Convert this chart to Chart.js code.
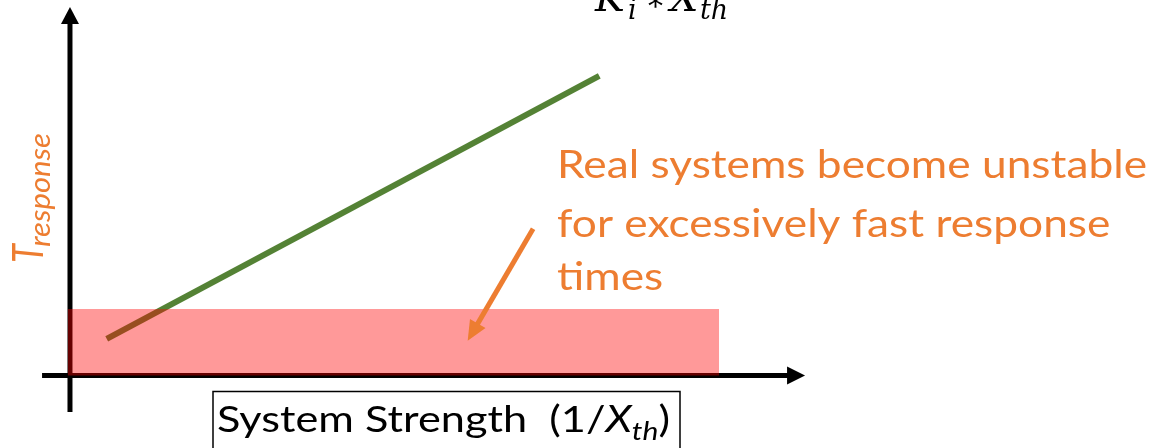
<!DOCTYPE html>
<html>
<head>
<meta charset="utf-8">
<script src="https://cdn.jsdelivr.net/npm/chart.js@4"></script>
<style>
  html,body{margin:0;padding:0;background:#fff;}
  #wrap{width:1155px;height:448px;}
</style>
</head>
<body>
<div id="wrap"><canvas id="myChart" width="1155" height="448"></canvas></div>
<script>
// data space: x = system strength, y = response time (origin where the axes cross)
const xRange = [-0.952, 14.76];
const yRange = [-1.97, 10.19];

// green trend line
const trendX = [0.50, 7.20];
const trendY = [0.99, 8.13];

// unstable (too fast) region
const bandX = [-0.03, 8.83];
const bandY = [0, 1.80];

// axes
const xAxisX = [-0.38, 10];
const yAxisY = [-0.99, 10];

// orange pointer arrow (from text to band)
const pointerX = [6.30, 5.41];
const pointerY = [3.98, 0.94];

const noteLines = ['Real systems become unstable', 'for excessively fast response', 'times'];

const ORANGE = '#ED7D31';
const GREEN = '#548235';

function arrow(ctx, x1, y1, x2, y2, color, lw, headLen, headHalf) {
    const ang = Math.atan2(y2 - y1, x2 - x1);
    const bx = x2 - headLen * Math.cos(ang), by = y2 - headLen * Math.sin(ang);
    ctx.save();
    ctx.strokeStyle = color;
    ctx.fillStyle = color;
    ctx.lineWidth = lw;
    ctx.lineCap = 'butt';
    ctx.beginPath();
    ctx.moveTo(x1, y1);
    ctx.lineTo(bx + Math.cos(ang), by + Math.sin(ang));
    ctx.stroke();
    ctx.beginPath();
    ctx.moveTo(x2, y2);
    ctx.lineTo(bx - headHalf * Math.sin(ang), by + headHalf * Math.cos(ang));
    ctx.lineTo(bx + headHalf * Math.sin(ang), by - headHalf * Math.cos(ang));
    ctx.closePath();
    ctx.fill();
    ctx.restore();
}

const axesPlugin = {
    id: 'axesArrows',
    beforeDatasetsDraw(chart) {
        const ctx = chart.ctx, sx = chart.scales.x, sy = chart.scales.y;
        const y0 = sy.getPixelForValue(0), x0 = sx.getPixelForValue(0);
        arrow(ctx, sx.getPixelForValue(xAxisX[0]), y0, sx.getPixelForValue(xAxisX[1]), y0, '#000', 5, 18, 9);
        arrow(ctx, x0, sy.getPixelForValue(yAxisY[0]), x0, sy.getPixelForValue(yAxisY[1]), '#000', 5, 17, 9);
    },
    afterDatasetsDraw(chart) {
        const ctx = chart.ctx, sx = chart.scales.x, sy = chart.scales.y;
        arrow(ctx, sx.getPixelForValue(pointerX[0]), sy.getPixelForValue(pointerY[0]),
              sx.getPixelForValue(pointerX[1]), sy.getPixelForValue(pointerY[1]), ORANGE, 5, 20, 9);

        // note text
        ctx.save();
        ctx.fillStyle = ORANGE;
        ctx.textBaseline = 'alphabetic';
        ctx.font = '39px Lato';
        const k = 590 / ctx.measureText(noteLines[0]).width;
        const bases = [178, 237, 290];
        noteLines.forEach((t, i) => {
            ctx.save();
            ctx.translate(557, bases[i]);
            ctx.scale(k, 1);
            ctx.fillText(t, 0, 0);
            ctx.restore();
        });
        ctx.restore();

        // y label T_response (rotated)
        ctx.save();
        ctx.fillStyle = ORANGE;
        ctx.translate(43, 263);
        ctx.rotate(-Math.PI / 2);
        ctx.save();
        ctx.scale(0.82, 1);
        ctx.font = 'italic 42px Lato';
        ctx.fillText('T', 0, 0);
        ctx.restore();
        ctx.font = 'italic 29px Lato';
        const rw = ctx.measureText('response').width;
        ctx.translate(16, 7);
        ctx.scale(114 / rw, 1);
        ctx.fillText('response', 0, 0);
        ctx.restore();

        // top formula (cut off at the top)
        ctx.save();
        ctx.fillStyle = '#000';
        ctx.font = 'italic 40px "DejaVu Serif"';
        ctx.fillText('K', 595, 11);
        ctx.font = 'italic 27px "DejaVu Serif"';
        ctx.fillText('i', 628, 19);
        ctx.font = '30px "DejaVu Serif"';
        ctx.fillText('*', 648, 16);
        ctx.font = 'italic 40px "DejaVu Serif"';
        ctx.fillText('X', 670, 11);
        ctx.font = 'italic 27px "DejaVu Serif"';
        ctx.fillText('th', 700, 19);
        ctx.restore();

        // x label in box
        ctx.save();
        ctx.strokeStyle = '#000';
        ctx.lineWidth = 1.5;
        ctx.strokeRect(213, 391.5, 467, 70);
        ctx.fillStyle = '#000';
        const parts = [
            ['System Strength  (1/', '36px Lato', 0],
            ['X', 'italic 36px Lato', 0],
            ['th', 'italic 25px Lato', 8],
            [')', '36px Lato', 0]
        ];
        let total = 0;
        parts.forEach(p => { ctx.font = p[1]; total += ctx.measureText(p[0]).width; });
        const s = 453 / total;
        let cx = 217;
        parts.forEach(p => {
            ctx.font = p[1];
            const w = ctx.measureText(p[0]).width;
            ctx.save();
            ctx.translate(cx, 432 + p[2]);
            ctx.scale(s, 1);
            ctx.fillText(p[0], 0, 0);
            ctx.restore();
            cx += w * s;
        });
        ctx.restore();
    }
};

const ctx = document.getElementById('myChart').getContext('2d');
const myChart = new Chart(ctx, {
    type: 'line',
    data: {
        datasets: [{
            label: 'unstable region',
            data: [{x: bandX[0], y: bandY[1]}, {x: bandX[1], y: bandY[1]}],
            borderWidth: 0,
            borderColor: 'rgba(0,0,0,0)',
            backgroundColor: 'rgba(255,0,0,0.4)',
            fill: {target: {value: bandY[0]}},
            order: 0
        }, {
            label: 'T response',
            data: trendX.map((x, i) => ({x: x, y: trendY[i]})),
            borderColor: GREEN,
            borderWidth: 6,
            borderCapStyle: 'butt',
            fill: false,
            order: 1
        }]
    },
    options: {
        responsive: false,
        animation: false,
        devicePixelRatio: 1,
        layout: {padding: 0},
        elements: {point: {radius: 0}, line: {tension: 0}},
        plugins: {legend: {display: false}, tooltip: {enabled: false}},
        scales: {
            x: {type: 'linear', min: xRange[0], max: xRange[1], display: false},
            y: {type: 'linear', min: yRange[0], max: yRange[1], display: false}
        }
    },
    plugins: [axesPlugin]
});
</script>
</body>
</html>
